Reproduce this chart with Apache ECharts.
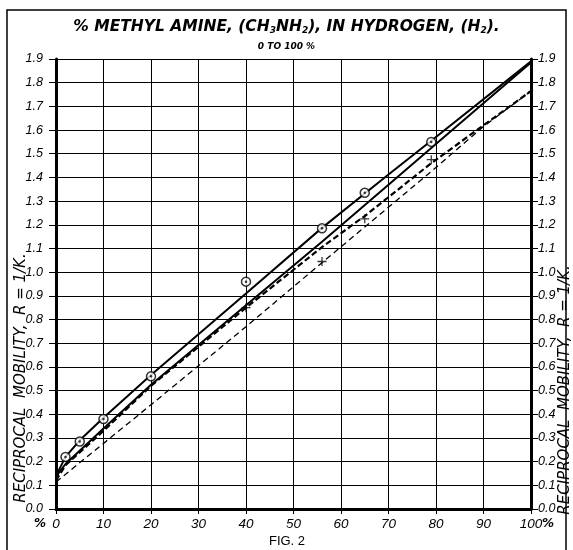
<!DOCTYPE html>
<html>
<head>
<meta charset="utf-8">
<script src="https://cdn.jsdelivr.net/npm/echarts@6/dist/echarts.min.js"></script>
<style>html,body{margin:0;padding:0;background:#fff}#c{width:573px;height:550px}</style>
</head>
<body>
<div id="c"></div>
<script>
// ---- data ----
const xTicks = [0,10,20,30,40,50,60,70,80,90,100];
const yTicks = [0.0,0.1,0.2,0.3,0.4,0.5,0.6,0.7,0.8,0.9,1.0,1.1,1.2,1.3,1.4,1.5,1.6,1.7,1.8,1.9];

// circle (⊙) observations
const circleX = [2, 5, 10, 20, 40, 56, 65, 79];
const circleY = [0.22, 0.285, 0.38, 0.56, 0.96, 1.185, 1.335, 1.55];
// cross (+) observations
const crossX = [40, 56, 65, 79];
const crossY = [0.85, 1.045, 1.225, 1.475];

// upper solid curve
const upperX = [0, 0.5, 2, 5, 10, 20, 40, 56, 70, 79, 100];
const upperY = [0.12, 0.16, 0.22, 0.29, 0.385, 0.566, 0.91, 1.187, 1.412, 1.555, 1.89];
// middle solid curve
const midX = [0, 0.5, 2, 10, 20, 40, 56, 70, 79, 100];
const midY = [0.12, 0.15, 0.19, 0.34, 0.525, 0.86, 1.128, 1.369, 1.524, 1.885];
// heavy dashed curve
const heavyX = [0, 2, 10, 20, 40, 56, 65, 79, 90, 100];
const heavyY = [0.12, 0.185, 0.33, 0.52, 0.85, 1.106, 1.237, 1.46, 1.62, 1.765];
// thin dashed curve
const thinX = [0, 20, 40, 56, 79, 90, 100];
const thinY = [0.114, 0.44, 0.77, 1.04, 1.425, 1.615, 1.765];

const zip = (a, b) => a.map((v, i) => [v, b[i]]);
const FONT = 'DejaVu Sans';
const TICKFONT = 'Liberation Sans';
const chart = echarts.init(document.getElementById('c'), null, {renderer: 'canvas'});

const yAxisCommon = {
  type: 'value', min: 0, max: 1.9, interval: 0.1,
  axisLine: {show: true, lineStyle: {color: '#000', width: 3}},
  axisTick: {show: true, length: 7, lineStyle: {color: '#000', width: 1}},
  splitLine: {show: true, lineStyle: {color: '#000', width: 1}},
  axisLabel: {
    color: '#000', fontFamily: TICKFONT, fontStyle: 'italic', fontSize: 12.5, margin: 13,
    formatter: v => v.toFixed(1)
  }
};

chart.setOption({
  animation: false,
  backgroundColor: '#fff',
  title: [{
    text: '% METHYL AMINE, (CH{s|3}NH{s|2}), IN HYDROGEN, (H{s|2}).',
    left: 'center', top: 13,
    textStyle: {
      fontFamily: FONT, fontStyle: 'italic', fontWeight: 'bold', fontSize: 15.5, color: '#000',
      rich: {s: {fontFamily: FONT, fontStyle: 'italic', fontWeight: 'bold', fontSize: 9, color: '#000', padding: [8, 0, 0, 0]}}
    }
  }, {
    text: '0 TO 100 %',
    left: 'center', top: 37,
    textStyle: {fontFamily: FONT, fontStyle: 'italic', fontWeight: 'bold', fontSize: 9, color: '#000'}
  }],
  grid: {left: 56, right: 42, top: 59, bottom: 41, containLabel: false},
  xAxis: {
    type: 'value', min: 0, max: 100, interval: 10,
    axisLine: {show: true, lineStyle: {color: '#000', width: 3}},
    axisTick: {show: true, length: 5, lineStyle: {color: '#000'}},
    splitLine: {show: true, lineStyle: {color: '#000', width: 1}},
    axisLabel: {color: '#000', fontFamily: TICKFONT, fontStyle: 'italic', fontSize: 13.5, margin: 8}
  },
  yAxis: [
    Object.assign({position: 'left'}, yAxisCommon),
    Object.assign({position: 'right'}, yAxisCommon, {
      splitLine: {show: false},
      axisLabel: Object.assign({}, yAxisCommon.axisLabel, {margin: 7})
    })
  ],
  series: [
    {type: 'line', data: zip(upperX, upperY), symbol: 'none', lineStyle: {color: '#000', width: 2}, z: 3},
    {type: 'line', data: zip(midX, midY), symbol: 'none', lineStyle: {color: '#000', width: 2}, z: 3},
    {type: 'line', data: zip(heavyX, heavyY), symbol: 'none', lineStyle: {color: '#000', width: 2.2, type: [6, 3]}, z: 3},
    {type: 'line', data: zip(thinX, thinY), symbol: 'none', lineStyle: {color: '#000', width: 1.3, type: [6, 4]}, z: 3},
    {type: 'scatter', data: zip(circleX, circleY), symbol: 'circle', symbolSize: 9,
      itemStyle: {color: '#fff', borderColor: '#000', borderWidth: 1.5}, z: 5},
    {type: 'scatter', data: zip(circleX, circleY), symbol: 'circle', symbolSize: 2.5,
      itemStyle: {color: '#000'}, z: 6},
    {type: 'scatter', data: zip(crossX, crossY), symbol: 'path://M4.3,0H5.7V4.3H10V5.7H5.7V10H4.3V5.7H0V4.3H4.3Z',
      symbolSize: 9, itemStyle: {color: '#000'}, z: 5}
  ],
  graphic: [
    {type: 'rect', shape: {x: 7, y: 10, width: 559, height: 570}, style: {fill: 'none', stroke: '#000', lineWidth: 1.5}, silent: true},
    {type: 'text', x: 21, y: 378, rotation: Math.PI / 2, style: {
      text: 'RECIPROCAL  MOBILITY,  R = 1/K.', fill: '#000', font: 'italic 15px "DejaVu Sans"',
      align: 'center', verticalAlign: 'middle'}},
    {type: 'text', x: 565, y: 390, rotation: Math.PI / 2, style: {
      text: 'RECIPROCAL  MOBILITY,  R = 1/K.', fill: '#000', font: 'italic 15px "DejaVu Sans"',
      align: 'center', verticalAlign: 'middle'}},
    {type: 'text', x: 40, y: 524, style: {text: '%', fill: '#000', font: 'italic bold 12px "DejaVu Sans"', align: 'center', verticalAlign: 'middle'}},
    {type: 'text', x: 548, y: 524, style: {text: '%', fill: '#000', font: 'italic bold 12px "DejaVu Sans"', align: 'center', verticalAlign: 'middle'}},
    {type: 'text', x: 287, y: 541, style: {text: 'FIG. 2', fill: '#000', font: '13px "Liberation Sans"', align: 'center', verticalAlign: 'middle'}}
  ]
});
</script>
</body>
</html>
